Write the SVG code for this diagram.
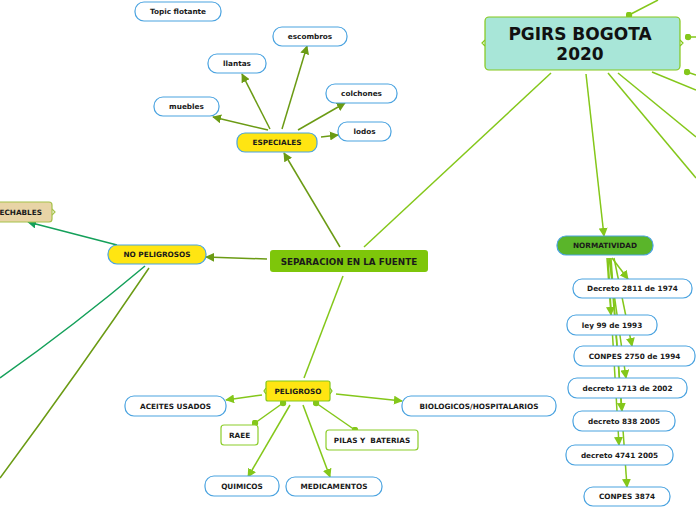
<svg xmlns="http://www.w3.org/2000/svg" width="696" height="520" viewBox="0 0 696 520">
<style>
text{font-family:"DejaVu Sans","Verdana",sans-serif;font-weight:bold;fill:#1a1a1a;text-anchor:middle;dominant-baseline:central}
.s{font-size:7.3px}
.pill{fill:#fff;stroke:#4aa3e0;stroke-width:1.2}
.gbox{fill:#fff;stroke:#8ccd2a;stroke-width:1.2}
.ol{stroke:#6b9b14;stroke-width:1.5;fill:none}
.lg{stroke:#84c71a;stroke-width:1.5;fill:none}
.tg{stroke:#14a05a;stroke-width:1.5;fill:none}
</style>
<defs>
<marker id="aO" viewBox="0 0 10 10" refX="9" refY="5" markerWidth="9" markerHeight="9" markerUnits="userSpaceOnUse" orient="auto"><path d="M0,0 L10,5 L0,10 z" fill="#6b9b14"/></marker>
<marker id="aG" viewBox="0 0 10 10" refX="9" refY="5" markerWidth="9" markerHeight="9" markerUnits="userSpaceOnUse" orient="auto"><path d="M0,0 L10,5 L0,10 z" fill="#84c71a"/></marker>
<marker id="aT" viewBox="0 0 10 10" refX="9" refY="5" markerWidth="9" markerHeight="9" markerUnits="userSpaceOnUse" orient="auto"><path d="M0,0 L10,5 L0,10 z" fill="#14a05a"/></marker>
<marker id="dG" viewBox="0 0 10 10" refX="5" refY="5" markerWidth="7" markerHeight="7" markerUnits="userSpaceOnUse"><circle cx="5" cy="5" r="4.6" fill="#84c71a"/></marker>
</defs>

<g id="connectors">
<line class="ol" x1="340" y1="247" x2="284" y2="153" marker-end="url(#aO)"/>
<line class="lg" x1="364" y1="247" x2="551" y2="73"/>
<line class="ol" x1="267" y1="259" x2="206" y2="257" marker-end="url(#aO)"/>
<line class="lg" x1="343" y1="276" x2="304" y2="378"/>
<line class="ol" x1="268" y1="130" x2="213" y2="117" marker-end="url(#aO)"/>
<line class="ol" x1="270" y1="129" x2="242" y2="74" marker-end="url(#aO)"/>
<line class="ol" x1="282" y1="129" x2="307" y2="46" marker-end="url(#aO)"/>
<line class="ol" x1="298" y1="130" x2="345" y2="103" marker-end="url(#aO)"/>
<line class="ol" x1="321" y1="137" x2="338" y2="135" marker-end="url(#aO)"/>
<line class="tg" x1="117" y1="245" x2="28" y2="222" marker-end="url(#aT)"/>
<path class="tg" d="M145,266 Q75,325 0,378"/>
<path class="ol" d="M149,268 Q80,370 0,478"/>
<line class="lg" x1="262" y1="395" x2="226" y2="400" marker-end="url(#aG)"/>
<line class="lg" x1="283" y1="403" x2="255" y2="423" marker-start="url(#dG)" marker-end="url(#dG)"/>
<line class="lg" x1="290" y1="405" x2="248" y2="477" marker-end="url(#aG)"/>
<line class="lg" x1="303" y1="405" x2="330" y2="477" marker-end="url(#aG)"/>
<line class="lg" x1="316" y1="403" x2="355" y2="430" marker-start="url(#dG)" marker-end="url(#dG)"/>
<line class="lg" x1="336" y1="394" x2="402" y2="401" marker-end="url(#aG)"/>
<line class="lg" x1="629" y1="15" x2="658" y2="0" marker-start="url(#dG)"/>
<line class="lg" x1="688" y1="37" x2="696" y2="37" marker-start="url(#dG)"/>
<line class="lg" x1="687" y1="72" x2="696" y2="75" marker-start="url(#dG)"/>
<line class="lg" x1="586" y1="74" x2="604" y2="236" marker-end="url(#aG)"/>
<line class="lg" x1="608" y1="73" x2="696" y2="178"/>
<line class="lg" x1="618" y1="73" x2="696" y2="137"/>
<line class="lg" x1="652" y1="72" x2="696" y2="90"/>
<line class="lg" x1="612" y1="258" x2="628" y2="279" marker-end="url(#aG)"/>
<line class="lg" x1="607" y1="258" x2="611" y2="315" marker-end="url(#aG)"/>
<line class="lg" x1="614" y1="258" x2="632" y2="346" marker-end="url(#aG)"/>
<line class="lg" x1="609" y1="258" x2="626" y2="378" marker-end="url(#aG)"/>
<line class="lg" x1="610" y1="258" x2="622" y2="411" marker-end="url(#aG)"/>
<line class="lg" x1="608" y1="258" x2="619" y2="445" marker-end="url(#aG)"/>
<line class="lg" x1="611" y1="258" x2="627" y2="487" marker-end="url(#aG)"/>
</g>

<g id="pgirs">
<path d="M485,40 l-3,3 l3,3 M680,40 l3,3 l-3,3" stroke="#84c71a" stroke-width="1.2" fill="none"/>
<rect x="485" y="17" width="195" height="53" rx="4" fill="#a8e6d8" stroke="#84c71a" stroke-width="1.2"/>
<text x="580" y="34" style="font-size:17px;fill:#111">PGIRS BOGOTA</text>
<text x="580" y="54" style="font-size:17px;fill:#111">2020</text>
</g>
<g id="topic-flotante"><rect class="pill" x="135" y="2" width="86" height="19" rx="9"/><text class="s" x="178" y="11.5">Topic flotante</text></g>
<g id="escombros"><rect class="pill" x="273" y="27" width="74" height="19" rx="9"/><text class="s" x="310" y="36.5">escombros</text></g>
<g id="llantas"><rect class="pill" x="208" y="54" width="58" height="19" rx="9"/><text class="s" x="237" y="63.5">llantas</text></g>
<g id="colchones"><rect class="pill" x="326" y="84" width="71" height="19" rx="9"/><text class="s" x="361.5" y="93.5">colchones</text></g>
<g id="muebles"><rect class="pill" x="154" y="97" width="65" height="19" rx="9"/><text class="s" x="186.5" y="106.5">muebles</text></g>
<g id="lodos"><rect class="pill" x="338" y="122" width="53" height="19" rx="9"/><text class="s" x="364.5" y="131.5">lodos</text></g>
<g id="especiales"><rect x="237" y="133" width="80" height="19" rx="8" fill="#ffe512" stroke="#4aa3e0" stroke-width="1.2"/><text class="s" x="277" y="142.5">ESPECIALES</text></g>
<g id="aprovechables">
<path d="M52,209 l3,3 l-3,3" stroke="#a6c24a" stroke-width="1.2" fill="none"/>
<rect x="-40" y="202" width="92" height="20" rx="3" fill="#e8d4a6" stroke="#a6c24a" stroke-width="1.2"/>
<text class="s" x="42" y="212" style="text-anchor:end">APROVECHABLES</text>
</g>
<g id="no-peligrosos"><rect x="108" y="245" width="98" height="19" rx="9" fill="#ffe512" stroke="#4aa3e0" stroke-width="1.2"/><text class="s" x="157" y="254.5">NO PELIGROSOS</text></g>
<g id="separacion"><rect x="270" y="250" width="158" height="22" rx="3" fill="#7ec60a"/><text x="349" y="261.5" style="font-size:8.8px">SEPARACION EN LA FUENTE</text></g>
<g id="peligroso">
<path d="M266,388 l-2,3 l2,3 M330,388 l2,3 l-2,3" stroke="#84c71a" stroke-width="1.2" fill="none"/>
<rect x="266" y="381" width="64" height="20" rx="2" fill="#ffe512" stroke="#84c71a" stroke-width="1.2"/><text class="s" x="298" y="391">PELIGROSO</text></g>
<g id="aceites"><rect class="pill" x="125" y="396" width="101" height="20" rx="9"/><text class="s" x="175.5" y="406">ACEITES USADOS</text></g>
<g id="raee"><rect class="gbox" x="221" y="425" width="37" height="20" rx="3"/><text class="s" x="239.5" y="435">RAEE</text></g>
<g id="pilas"><rect class="gbox" x="326" y="430" width="92" height="20" rx="3"/><text class="s" x="372" y="440" xml:space="preserve">PILAS Y  BATERIAS</text></g>
<g id="biologicos"><rect class="pill" x="402" y="396" width="154" height="20" rx="9"/><text class="s" x="479" y="406">BIOLOGICOS/HOSPITALARIOS</text></g>
<g id="quimicos"><rect class="pill" x="205" y="476" width="74" height="20" rx="9"/><text class="s" x="242" y="486">QUIMICOS</text></g>
<g id="medicamentos"><rect class="pill" x="286" y="477" width="96" height="19" rx="9"/><text class="s" x="334" y="486.5">MEDICAMENTOS</text></g>
<g id="normatividad"><rect x="557" y="236" width="96" height="19" rx="9" fill="#5ab52a" stroke="#4aa3e0" stroke-width="1.2"/><text class="s" x="605" y="245.5">NORMATIVIDAD</text></g>
<g id="decreto2811"><rect class="pill" x="573" y="279" width="119" height="19" rx="9"/><text class="s" x="632.5" y="288.5">Decreto 2811 de 1974</text></g>
<g id="ley99"><rect class="pill" x="567" y="315" width="90" height="20" rx="9"/><text class="s" x="612" y="325">ley 99 de 1993</text></g>
<g id="conpes2750"><rect class="pill" x="574" y="346" width="121" height="20" rx="9"/><text class="s" x="634.5" y="356">CONPES 2750 de 1994</text></g>
<g id="decreto1713"><rect class="pill" x="568" y="378" width="119" height="20" rx="9"/><text class="s" x="627.5" y="388">decreto 1713 de 2002</text></g>
<g id="decreto838"><rect class="pill" x="573" y="411" width="102" height="20" rx="9"/><text class="s" x="624" y="421">decreto 838 2005</text></g>
<g id="decreto4741"><rect class="pill" x="566" y="445" width="107" height="20" rx="9"/><text class="s" x="619.5" y="455">decreto 4741 2005</text></g>
<g id="conpes3874"><rect class="pill" x="584" y="487" width="86" height="19" rx="9"/><text class="s" x="627" y="496.5">CONPES 3874</text></g>
</svg>
